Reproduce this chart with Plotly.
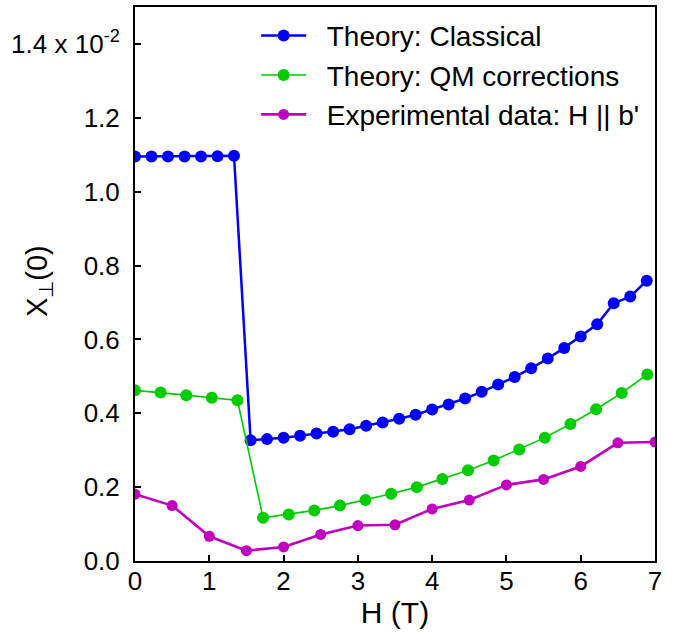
import plotly.graph_objects as go

# Field values (T)
h_classical = [0.0, 0.222, 0.444, 0.667, 0.889, 1.111, 1.333,
               1.556, 1.778, 2.0, 2.222, 2.444, 2.667, 2.889, 3.111, 3.333,
               3.556, 3.778, 4.0, 4.222, 4.444, 4.667, 4.889, 5.111, 5.333,
               5.556, 5.778, 6.0, 6.222, 6.444, 6.667, 6.889]
chi_classical = [1.095, 1.095, 1.095, 1.095, 1.095, 1.096, 1.097,
                 0.327, 0.330, 0.334, 0.339, 0.345, 0.350, 0.357, 0.366, 0.375,
                 0.385, 0.396, 0.410, 0.424, 0.440, 0.458, 0.478, 0.498, 0.522,
                 0.548, 0.577, 0.608, 0.641, 0.698, 0.716, 0.759]

h_qm = [0.0, 0.345, 0.69, 1.034, 1.379, 1.724, 2.069, 2.414, 2.759, 3.103,
        3.448, 3.793, 4.138, 4.483, 4.828, 5.172, 5.517, 5.862, 6.207, 6.552, 6.897]
chi_qm = [0.462, 0.456, 0.449, 0.442, 0.435, 0.117, 0.126, 0.137, 0.150, 0.165,
          0.182, 0.200, 0.222, 0.246, 0.272, 0.302, 0.334, 0.371, 0.411, 0.455, 0.505]

h_exp = [0.0, 0.5, 1.0, 1.5, 2.0, 2.5, 3.0, 3.5, 4.0, 4.5, 5.0, 5.5, 6.0, 6.5, 7.0]
chi_exp = [0.181, 0.150, 0.067, 0.028, 0.038, 0.072, 0.096, 0.098, 0.141, 0.165,
           0.206, 0.221, 0.256, 0.320, 0.322]

series_names = ["Theory: Classical", "Theory: QM corrections", "Experimental data: H || b'"]

y_tickvals = [0.0, 0.2, 0.4, 0.6, 0.8, 1.0, 1.2, 1.4]
y_ticktext = ["0.0", "0.2", "0.4", "0.6", "0.8", "1.0", "1.2", "1.4 x 10<sup>-2</sup>"]
x_tickvals = [0, 1, 2, 3, 4, 5, 6, 7]

FONT = "Liberation Sans, Arial, sans-serif"
PAD = "\u00a0\u00a0"  # gap between legend symbol and label

fig = go.Figure()
fig.add_trace(go.Scatter(
    x=h_classical, y=chi_classical, mode="lines+markers",
    name=PAD + series_names[0],
    line=dict(color="#0000FF", width=2.5),
    marker=dict(color="#0000FF", size=12),
))
fig.add_trace(go.Scatter(
    x=h_qm, y=chi_qm, mode="lines+markers",
    name=PAD + series_names[1],
    line=dict(color="#00CC00", width=1.6),
    marker=dict(color="#00CC00", size=12),
))
fig.add_trace(go.Scatter(
    x=h_exp, y=chi_exp, mode="lines+markers",
    name=PAD + series_names[2],
    line=dict(color="#BF00BF", width=2.6),
    marker=dict(color="#BF00BF", size=11),
))

axis_common = dict(
    showline=True, linecolor="black", linewidth=2, mirror=True,
    ticks="inside", ticklen=6, tickwidth=1.5, tickcolor="black",
    showgrid=False, zeroline=False,
    tickfont=dict(family=FONT, size=26, color="black"),
)

fig.update_xaxes(
    range=[0, 7], tickvals=x_tickvals,
    ticklabelstandoff=-4,
    title=dict(text="H (T)", font=dict(family=FONT, size=30, color="black"), standoff=0),
    **axis_common,
)
fig.update_yaxes(
    range=[0, 1.5], tickvals=y_tickvals, ticktext=y_ticktext,
    ticklabelstandoff=8,
    **axis_common,
)

# Rotated y-axis label placed independently of the wide top tick label
fig.add_annotation(
    text="X<sub>⊥</sub>(0)", textangle=-90,
    xref="paper", yref="paper", x=-0.185, y=0.505,
    xanchor="center", yanchor="middle", showarrow=False,
    font=dict(family=FONT, size=29, color="black"),
)

fig.update_layout(
    width=689, height=633,
    margin=dict(l=135, r=34, t=5, b=72),
    paper_bgcolor="white", plot_bgcolor="white",
    showlegend=True,
    legend=dict(
        x=0.233, y=0.993, xanchor="left", yanchor="top",
        bgcolor="rgba(0,0,0,0)", borderwidth=0,
        font=dict(family=FONT, size=28, color="black"),
        itemwidth=45, tracegroupgap=0,
    ),
)

fig.write_html("out.html")
